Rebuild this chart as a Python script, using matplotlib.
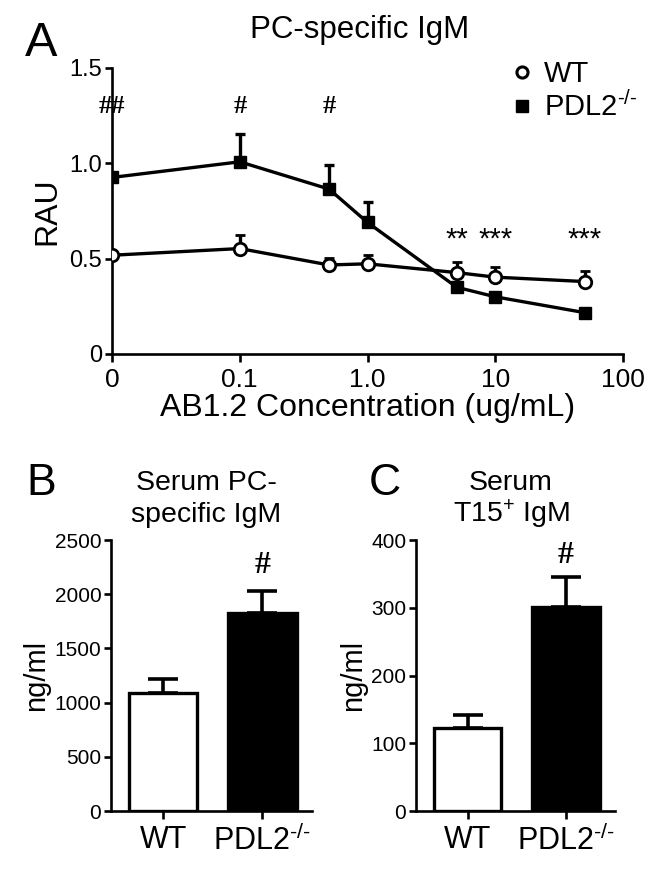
import numpy as np
import matplotlib
matplotlib.use("Agg")
import matplotlib.pyplot as plt
from matplotlib.lines import Line2D

plt.rcParams['font.family'] = ['Liberation Sans', 'DejaVu Sans']
plt.rcParams['mathtext.fontset'] = 'custom'
plt.rcParams['mathtext.rm'] = 'Liberation Sans'
plt.rcParams['mathtext.it'] = 'Liberation Sans'

# ---------------- data ----------------
conc_labels = ["0", "0.1", "0.5", "1", "5", "10", "50"]
conc_pos = [0.01, 0.1, 0.5, 1.0, 5.0, 10.0, 50.0]   # "0" drawn at first decade
wt_mean = [0.518, 0.553, 0.467, 0.473, 0.427, 0.403, 0.380]
wt_err = [0.02, 0.07, 0.035, 0.047, 0.058, 0.055, 0.055]
ko_mean = [0.926, 1.008, 0.865, 0.690, 0.350, 0.300, 0.217]
ko_err = [0.02, 0.144, 0.126, 0.105, 0.02, 0.02, 0.02]
sig_marks = ["##", "#", "#", "", "**", "***", "***"]

xtick_vals = [0.01, 0.1, 1, 10, 100]
xtick_labels = ["0", "0.1", "1.0", "10", "100"]
ytick_vals_a = [0, 0.5, 1.0, 1.5]
ytick_labels_a = ["0", "0.5", "1.0", "1.5"]

groups = ["WT", "PDL2$^{\\text{-/-}}$"]
pc_igm = [1085, 1830]
pc_igm_err = [130, 200]
t15_igm = [122, 301]
t15_igm_err = [19, 44]

W, H = 662, 871
fig = plt.figure(figsize=(W / 100, H / 100), dpi=100)

def fx(px):
    return px / W

def fy(py):
    return 1 - py / H

lw_axis = 1.9

# ---------------- Panel A ----------------
axA = fig.add_axes([fx(112), fy(354), fx(623) - fx(112), fy(68) - fy(354)])
axA.set_xscale('log')
axA.errorbar(conc_pos, ko_mean, yerr=[np.zeros(len(ko_err)), ko_err], color='black',
             lw=2.4, marker='s', ms=9, mfc='black', mec='black', capsize=3.5,
             capthick=2.4, elinewidth=2.4, zorder=3)
axA.errorbar(conc_pos, wt_mean, yerr=[np.zeros(len(wt_err)), wt_err], color='black',
             lw=2.4, marker='o', ms=9, mfc='white', mec='black', mew=2.0, capsize=3.5,
             capthick=2.4, elinewidth=2.4, zorder=4)
axA.set_xlim(0.01, 100)
axA.set_ylim(0, 1.5)
axA.set_xticks(xtick_vals)
axA.set_xticklabels(xtick_labels)
axA.xaxis.set_minor_locator(matplotlib.ticker.NullLocator())
axA.set_yticks(ytick_vals_a)
axA.set_yticklabels(ytick_labels_a)
for s in ['top', 'right']:
    axA.spines[s].set_visible(False)
for s in ['left', 'bottom']:
    axA.spines[s].set_linewidth(lw_axis)
axA.tick_params(axis='x', direction='out', length=6, width=lw_axis, labelsize=19, pad=4)
axA.tick_params(axis='y', direction='out', length=5, width=lw_axis, labelsize=17, pad=2)
axA.set_ylabel("RAU", fontsize=23, labelpad=5)
axA.set_xlabel("AB1.2 Concentration (ug/mL)", fontsize=23, labelpad=1)

for xp, m in zip(conc_pos[:3], sig_marks[:3]):
    axA.text(xp, 1.30, m, ha='center', va='center', fontsize=19,
             family='Liberation Serif', fontweight='bold')
for xp, m in zip(conc_pos[4:], sig_marks[4:]):
    axA.text(xp, 0.60, m, ha='center', va='center', fontsize=21)

handles = [Line2D([], [], ls='none', marker='o', ms=8, mfc='white', mec='black', mew=2.2),
           Line2D([], [], ls='none', marker='s', ms=8, mfc='black', mec='black')]
leg = axA.legend(handles, groups, loc='upper left', bbox_to_anchor=(fx(510), fy(60)),
                 bbox_transform=fig.transFigure, frameon=False, fontsize=21,
                 handlelength=0.8, handletextpad=0.35, labelspacing=0.12,
                 borderaxespad=0, borderpad=0)

fig.text(fx(25), fy(56), "A", fontsize=35, va='baseline', ha='left')
fig.text(fx(360), fy(38), "PC-specific IgM", fontsize=22.5, va='baseline', ha='center')

# ---------------- Panels B and C ----------------
def bar_panel(left, right, vals, errs, ymax, ystep, lettx, letter, title1, title2, titlex, hashy):
    ax = fig.add_axes([fx(left), fy(811), fx(right) - fx(left), fy(540) - fy(811)])
    xs = np.arange(len(vals))
    ax.bar(xs, vals, width=0.69, color=['white', 'black'], edgecolor='black',
           linewidth=2.4, zorder=2)
    ax.errorbar(xs, vals, yerr=[np.zeros(len(errs)), errs], fmt='none', ecolor='black',
                elinewidth=2.6, capsize=11, capthick=2.6, zorder=1)
    ax.set_xlim(-0.525, 1.5)
    ax.set_ylim(0, ymax)
    ax.set_yticks(np.arange(0, ymax + 1, ystep))
    ax.set_xticks(xs)
    ax.set_xticklabels(groups)
    for s in ['top', 'right']:
        ax.spines[s].set_visible(False)
    for s in ['left', 'bottom']:
        ax.spines[s].set_linewidth(lw_axis)
    ax.tick_params(axis='x', direction='out', length=6, width=lw_axis, labelsize=22, pad=4)
    ax.tick_params(axis='y', direction='out', length=5, width=lw_axis, labelsize=15, pad=2)
    ax.set_ylabel("ng/ml", fontsize=21, labelpad=3)
    ax.text(1, hashy, "#", ha='center', va='bottom', fontsize=23,
            family='Liberation Serif', fontweight='bold')
    fig.text(fx(lettx), fy(495), letter, fontsize=32, va='baseline', ha='left')
    fig.text(fx(titlex), fy(490), title1, fontsize=20.5, va='baseline', ha='center')
    fig.text(fx(titlex), fy(522), title2, fontsize=20.5, va='baseline', ha='center')
    return ax

bar_panel(111, 312, pc_igm, pc_igm_err, 2500, 500, 26, "B",
          "Serum PC-", "specific IgM", 206, 2130)
bar_panel(416, 615, t15_igm, t15_igm_err, 400, 100, 369, "C",
          "Serum", "T15$^{+}$ IgM", 511, 356)

fig.savefig("out.png", dpi=100)
